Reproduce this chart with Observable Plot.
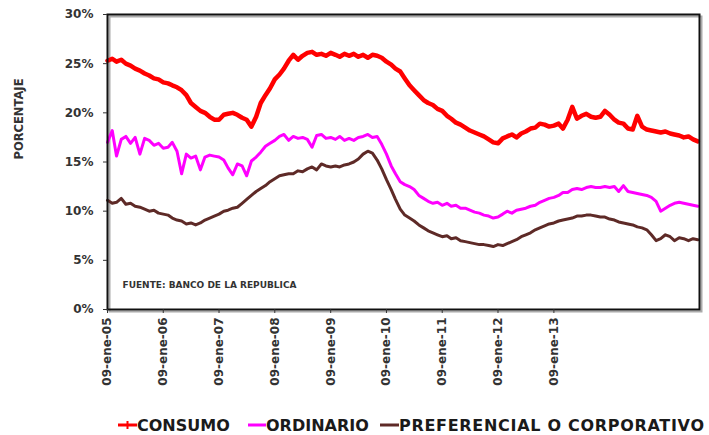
<!DOCTYPE html>
<html><head><meta charset="utf-8">
<script src="https://cdn.jsdelivr.net/npm/d3@7"></script>
<script src="https://cdn.jsdelivr.net/npm/@observablehq/plot@0.6"></script>
<style>
body{margin:0;background:#fff;}
#wrap{position:relative;width:709px;height:435px;overflow:hidden;}
.leg{position:absolute;top:415px;height:20px;display:flex;align-items:center;font:bold 16px "DejaVu Sans",sans-serif;color:#1a1a1a;white-space:nowrap;}
.leg svg{display:block;}
</style></head><body><div id="wrap"></div>
<script>
const inicio = "2005-01-09";
const fin = "2015-08-20";
const nombres = ["CONSUMO", "ORDINARIO", "PREFERENCIAL O CORPORATIVO"];
const colores = ["#ff0000", "#ff00ff", "#5e2a27"];
const consumo = [
25.3,25.5,25.2,25.4,25.0,24.8,24.5,24.3,24.0,23.8,
23.5,23.4,23.1,23.0,22.8,22.6,22.3,21.8,21.0,20.6,
20.2,20.0,19.6,19.3,19.3,19.8,19.9,20.0,19.8,19.5,
19.3,18.6,19.6,21.0,21.8,22.5,23.4,23.9,24.5,25.3,
25.9,25.4,25.8,26.1,26.2,25.9,26.0,25.8,26.1,25.9,
25.7,26.0,25.8,26.0,25.7,25.9,25.6,25.9,25.8,25.6,
25.2,24.9,24.5,24.2,23.5,22.8,22.3,21.8,21.3,21.0,
20.8,20.4,20.2,19.7,19.4,19.0,18.8,18.5,18.2,18.0,
17.8,17.6,17.3,17.0,16.9,17.4,17.6,17.8,17.5,17.9,
18.1,18.4,18.5,18.9,18.8,18.6,18.7,18.9,18.4,19.3,
20.6,19.4,19.7,19.9,19.6,19.5,19.6,20.2,19.8,19.3,
19.0,18.9,18.4,18.3,19.7,18.6,18.3,18.2,18.1,18.0,
18.1,17.9,17.8,17.7,17.5,17.6,17.3,17.1];
const ordinario = [
17.0,18.2,15.6,17.3,17.6,16.9,17.5,15.8,17.4,17.2,
16.7,16.9,16.4,16.5,17.0,16.1,13.8,15.8,15.4,15.6,
14.2,15.5,15.7,15.6,15.5,15.2,14.4,13.7,14.8,14.6,
13.6,15.1,15.5,16.0,16.6,16.9,17.2,17.6,17.8,17.2,
17.6,17.4,17.5,17.3,16.5,17.7,17.8,17.4,17.5,17.3,
17.6,17.2,17.4,17.2,17.5,17.6,17.8,17.5,17.6,16.8,
15.8,14.6,13.8,13.0,12.7,12.5,12.2,11.6,11.3,11.0,
10.8,10.9,10.6,10.8,10.5,10.6,10.3,10.3,10.1,9.9,
9.8,9.6,9.5,9.3,9.4,9.7,10.0,9.8,10.1,10.2,
10.3,10.5,10.6,10.9,11.1,11.3,11.4,11.6,11.9,11.9,
12.2,12.3,12.2,12.4,12.5,12.4,12.4,12.5,12.4,12.5,
12.0,12.6,12.0,11.9,11.8,11.7,11.6,11.4,11.0,10.0,
10.3,10.6,10.8,10.9,10.8,10.7,10.6,10.5];
const preferencial = [
11.1,10.8,10.9,11.3,10.7,10.8,10.5,10.4,10.2,10.0,
10.1,9.8,9.7,9.6,9.3,9.1,9.0,8.7,8.8,8.6,
8.8,9.1,9.3,9.5,9.7,10.0,10.1,10.3,10.4,10.8,
11.2,11.6,12.0,12.3,12.6,13.0,13.3,13.6,13.7,13.8,
13.8,14.1,14.0,14.3,14.5,14.2,14.8,14.6,14.5,14.6,
14.5,14.7,14.8,15.0,15.3,15.8,16.1,15.9,15.2,14.3,
13.2,12.2,11.2,10.2,9.6,9.3,9.0,8.6,8.3,8.0,
7.8,7.6,7.4,7.5,7.2,7.3,7.0,6.9,6.8,6.7,
6.6,6.6,6.5,6.4,6.6,6.5,6.7,6.9,7.1,7.4,
7.6,7.8,8.1,8.3,8.5,8.7,8.8,9.0,9.1,9.2,
9.3,9.5,9.5,9.6,9.6,9.5,9.4,9.4,9.2,9.1,
8.9,8.8,8.7,8.6,8.4,8.3,8.1,7.6,7.0,7.2,
7.6,7.4,7.0,7.3,7.2,7.0,7.2,7.1];
const yTicks = [0, 5, 10, 15, 20, 25, 30];
const tickFechas = ["2005-01-09","2006-01-09","2007-01-09","2008-01-09","2009-01-09","2010-01-09","2011-01-09","2012-01-09","2013-01-09"];
const tickEtiquetas = ["09-ene-05","09-ene-06","09-ene-07","09-ene-08","09-ene-09","09-ene-10","09-ene-11","09-ene-12","09-ene-13"];
const fuente = "FUENTE: BANCO DE LA REPUBLICA";
const tituloY = "PORCENTAJE";

const start = new Date(inicio);
const valores = [consumo, ordinario, preferencial];
const anchos = [4.5, 3, 3];
const filas = nombres.flatMap((n, k) => valores[k].map((v, i) => ({fecha: d3.utcMonth.offset(start, i), valor: v, serie: n})));
const etiquetaDe = new Map(tickFechas.map((d, i) => [+new Date(d), tickEtiquetas[i]]));

const chart = Plot.plot({
  width: 709, height: 410,
  marginLeft: 107, marginRight: 10, marginTop: 14, marginBottom: 101,
  style: {fontFamily: "DejaVu Sans, sans-serif", fontSize: "12px", fontWeight: "bold", color: "#333", background: "#fff"},
  x: {type: "utc", domain: [new Date(inicio), new Date(fin)]},
  y: {domain: [0, 30]},
  marks: [
    Plot.frame({stroke: "#aaa", strokeWidth: 2, dx: 2, dy: 2}),
    ...nombres.map((n, k) => Plot.line(filas.filter(d => d.serie === n), {x: "fecha", y: "valor", stroke: colores[k], strokeWidth: anchos[k], strokeLinejoin: "round"})),
    Plot.frame({stroke: "#111", strokeWidth: 2}),
    Plot.axisY({ticks: yTicks, tickFormat: d => d + "%", tickSize: 4, tickPadding: 10, label: null}),
    Plot.axisX({ticks: tickFechas.map(d => new Date(d)), tickFormat: d => etiquetaDe.get(+d), tickRotate: -90, tickSize: 4, tickPadding: 4, label: null}),
    Plot.text([tituloY], {frameAnchor: "left", dx: -88, dy: -43, rotate: -90, textAnchor: "middle", fontSize: 11.5, fontWeight: "bold", fill: "#333"}),
    Plot.text([fuente], {frameAnchor: "bottom-left", dx: 15, dy: -24, textAnchor: "start", lineAnchor: "middle", fontSize: 9, fontWeight: "bold", fill: "#333"})
  ]
});
const wrap = document.getElementById("wrap");
wrap.appendChild(chart);

const legPos = [{sw: 118, tx: 137, ls: 0}, {sw: 248, tx: 266, ls: 0}, {sw: 380, tx: 399, ls: 0.7}];
nombres.forEach((n, k) => {
  const d = document.createElement("div");
  d.className = "leg";
  d.style.left = legPos[k].sw + "px";
  d.style.letterSpacing = legPos[k].ls + "px";
  const w = legPos[k].tx - legPos[k].sw;
  const marker = k === 0 ? `<line x1="${w/2}" x2="${w/2}" y1="6" y2="14" stroke="${colores[k]}" stroke-width="2"/>` : "";
  d.innerHTML = `<svg width="${w}" height="20"><line x1="0" x2="${w}" y1="10" y2="10" stroke="${colores[k]}" stroke-width="3"/>${marker}</svg><span>${n}</span>`;
  wrap.appendChild(d);
});
</script></body></html>
